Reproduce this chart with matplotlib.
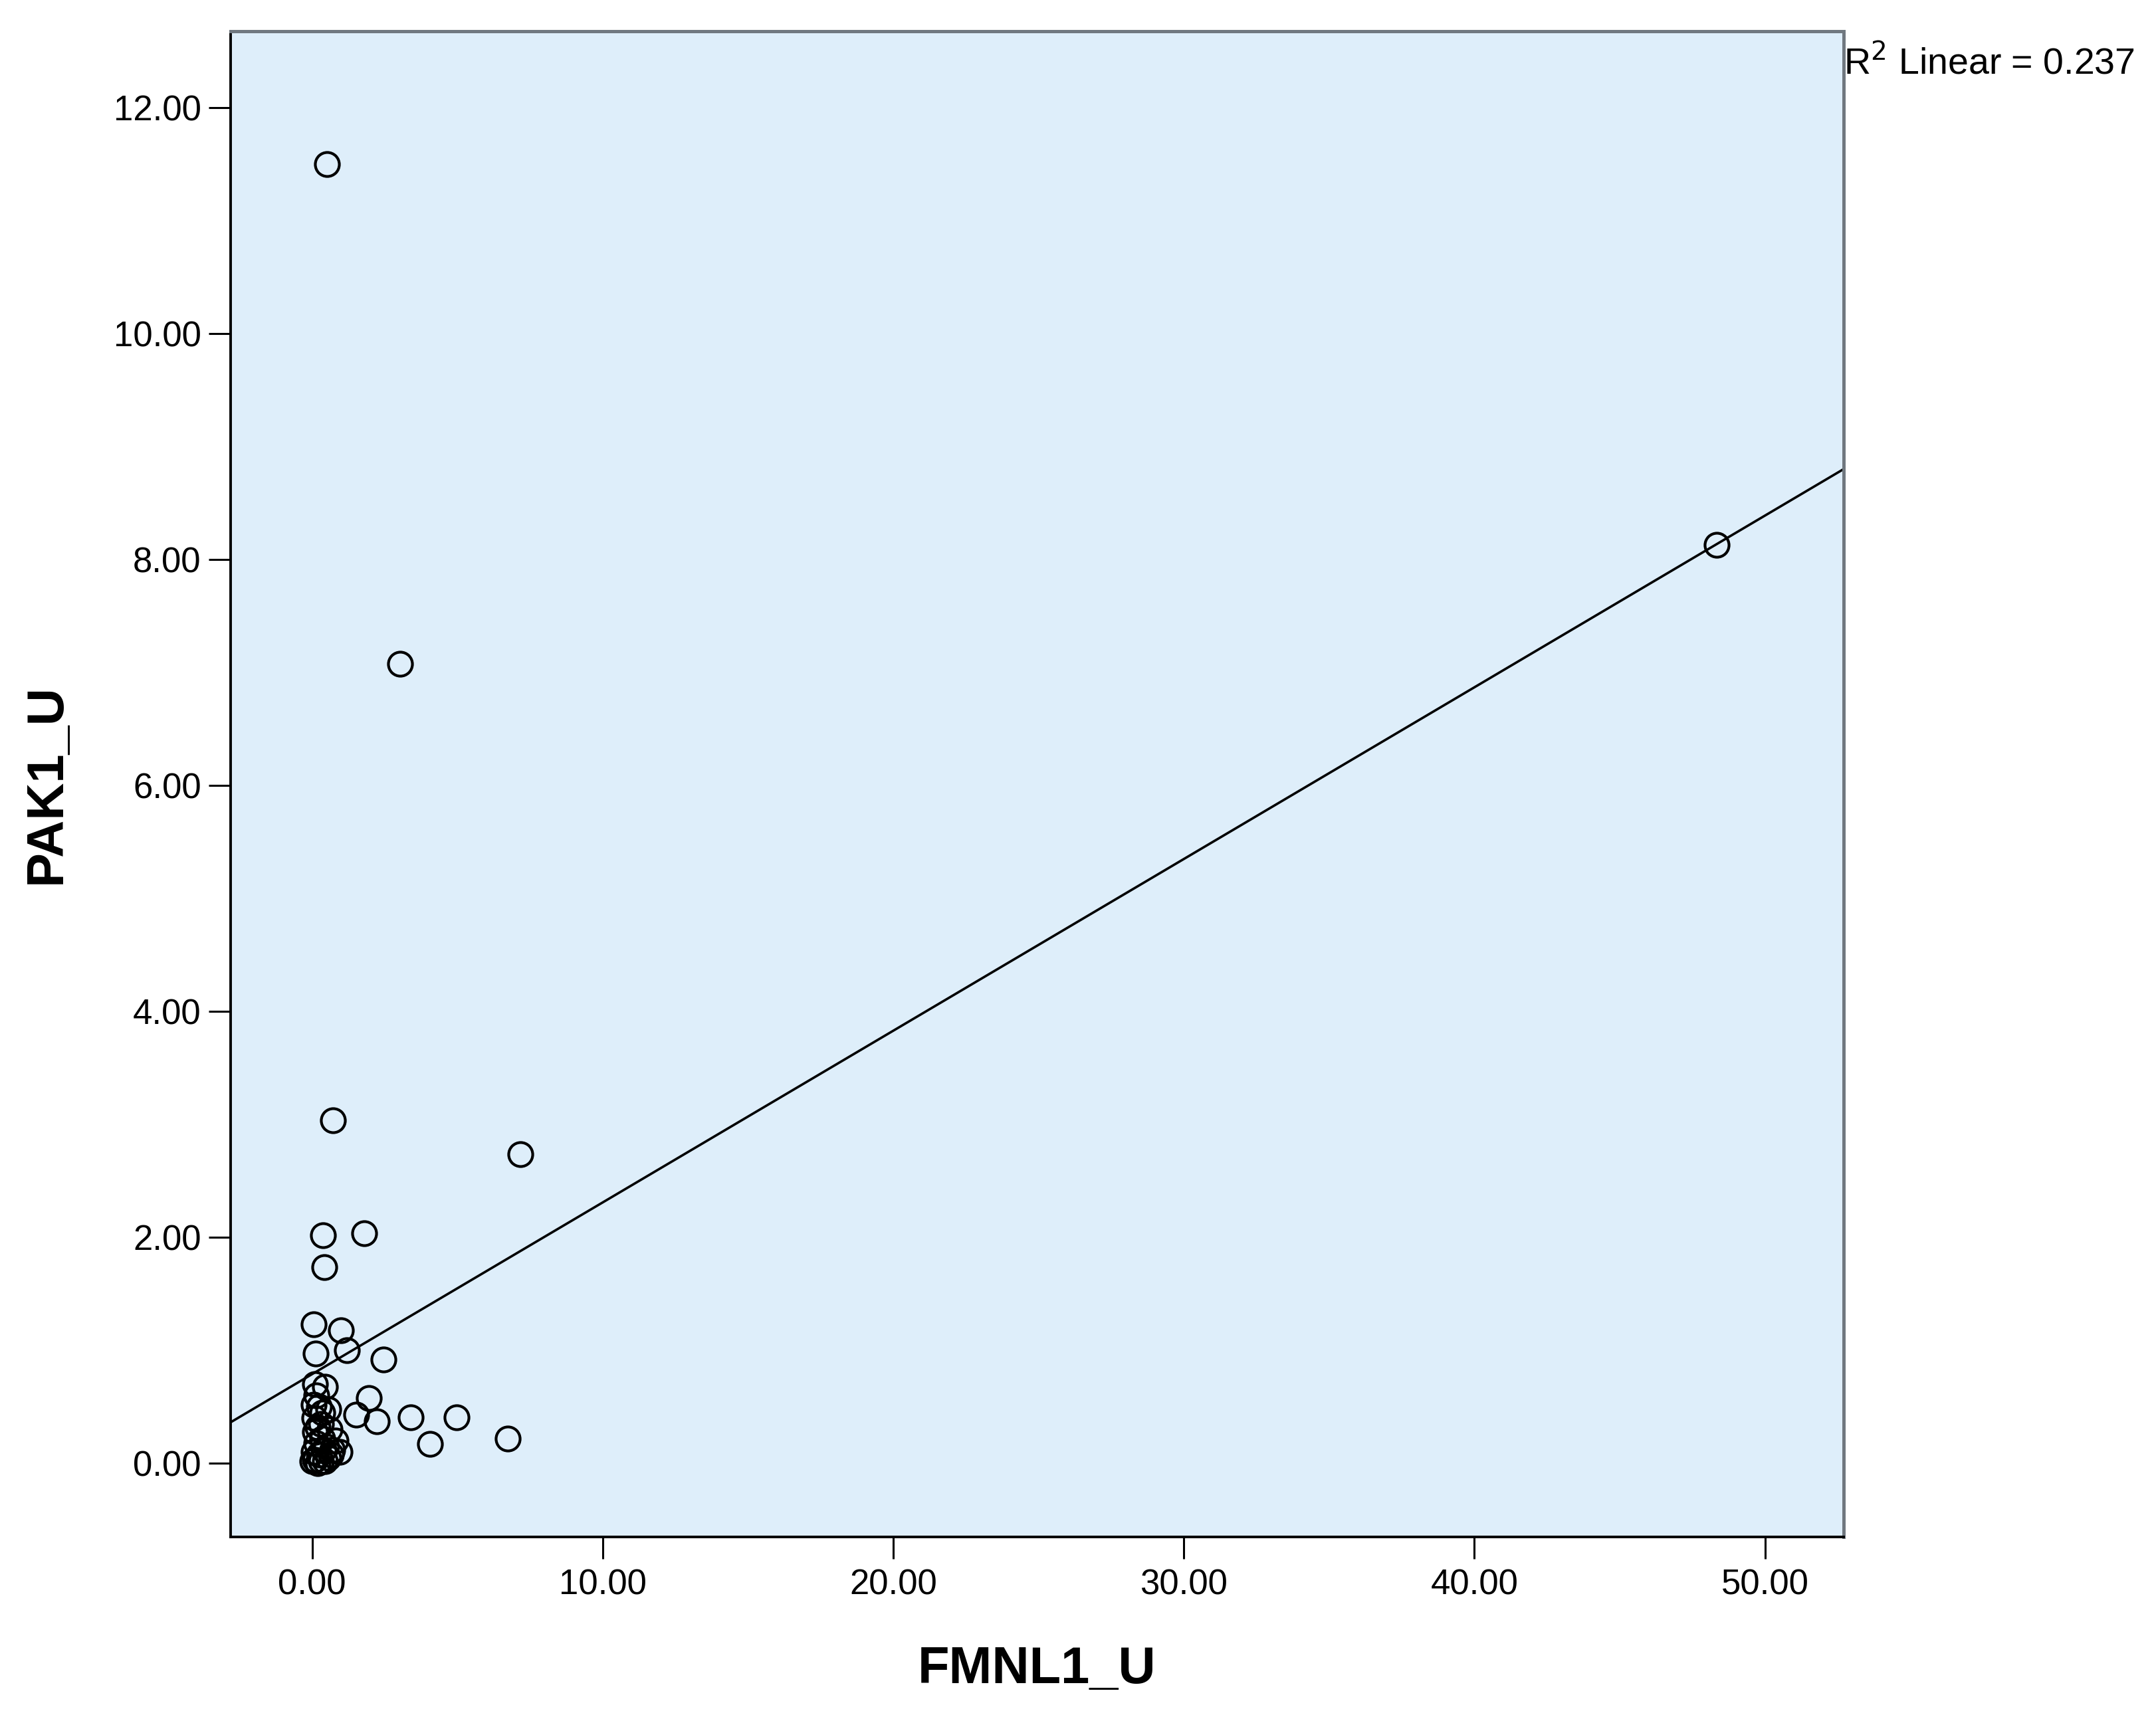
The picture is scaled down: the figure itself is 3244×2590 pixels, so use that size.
import matplotlib
matplotlib.use('Agg')
import matplotlib.pyplot as plt
import numpy as np

plt.rcParams['font.family'] = ['Liberation Sans', 'DejaVu Sans']

# FMNL1_U / PAK1_U values
fmnl1_u = [0.52, 3.03, 48.35, 0.71, 7.18, 0.38, 1.80, 0.43, 0.05, 1.00,
           1.19, 0.12, 2.45, 1.95, 1.53, 2.22, 3.40, 4.97, 4.05, 6.74,
           0.10, 0.45, 0.05, 0.25, 0.55, 0.08, 0.30, 0.60, 0.10, 0.35,
           0.15, 0.50, 0.05, 0.25, 0.70, 0.95, 0.10, 0.00, 0.30, 0.55,
           0.20, 0.40, 0.80, 0.15, 0.35, 0.65, 0.20, 0.45]
pak1_u = [11.50, 7.08, 8.13, 3.04, 2.74, 2.02, 2.04, 1.74, 1.23, 1.18,
          1.00, 0.97, 0.92, 0.58, 0.43, 0.37, 0.41, 0.41, 0.17, 0.22,
          0.70, 0.68, 0.52, 0.50, 0.48, 0.40, 0.35, 0.30, 0.28, 0.22,
          0.18, 0.15, 0.10, 0.08, 0.12, 0.10, 0.03, 0.02, 0.02, 0.05,
          0.00, 0.12, 0.20, 0.60, 0.45, 0.08, 0.32, 0.02]

# linear fit shown on the chart
fit_intercept = 0.79
fit_slope = 0.152
r2_text = 'R$^2$ Linear = 0.237'

x_ticks = [0, 10, 20, 30, 40, 50]
y_ticks = [0, 2, 4, 6, 8, 10, 12]

fig = plt.figure(figsize=(16.22, 12.95), dpi=200)
ax = fig.add_axes([0.107, 0.107, 0.748, 0.875])
ax.set_facecolor('#DEEEFA')

ax.set_xlim(-2.8, 52.7)
ax.set_ylim(-0.65, 12.68)

xs = np.array(ax.get_xlim())
ax.plot(xs, fit_intercept + fit_slope * xs, color='black', lw=1.3, zorder=2)

ax.plot(fmnl1_u, pak1_u, 'o', mfc='none', mec='black', ms=13, mew=1.5, zorder=3)

ax.set_xticks(x_ticks)
ax.set_yticks(y_ticks)
ax.set_xticklabels(['%.2f' % v for v in x_ticks])
ax.set_yticklabels(['%.2f' % v for v in y_ticks])
ax.tick_params(axis='both', direction='out', length=12, width=1.1, labelsize=19)
ax.tick_params(axis='x', pad=5)
ax.tick_params(axis='y', pad=4)

for side in ['left', 'bottom']:
    ax.spines[side].set_color('black')
    ax.spines[side].set_linewidth(1.4)
for side in ['top', 'right']:
    ax.spines[side].set_color('#707880')
    ax.spines[side].set_linewidth(1.8)

ax.set_xlabel('FMNL1_U', fontsize=28, fontweight='bold')
ax.set_ylabel('PAK1_U', fontsize=28, fontweight='bold')
ax.xaxis.set_label_coords(0.5, -0.072)
ax.yaxis.set_label_coords(-0.099, 0.5)

ax.text(1.0, 0.978, r2_text, transform=ax.transAxes, fontsize=20,
        ha='left', va='center')

fig.savefig('out.png', dpi=200, facecolor='white')
